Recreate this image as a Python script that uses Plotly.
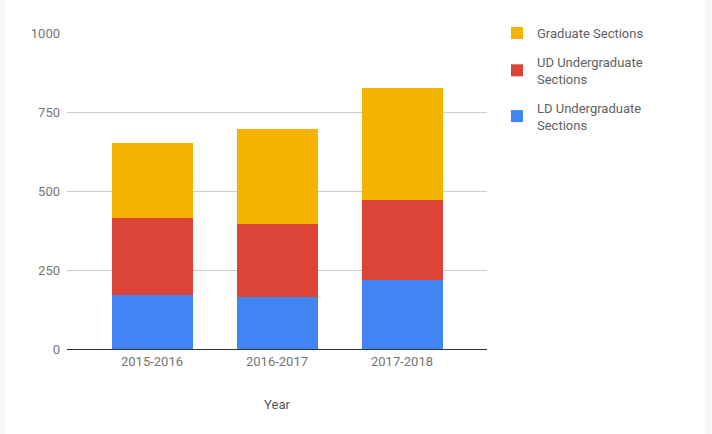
import plotly.graph_objects as go

years = ["2015-2016", "2016-2017", "2017-2018"]
ld_sections = [171, 163, 218]
ud_sections = [243, 232, 255]
grad_sections = [237, 302, 353]

# stacked bottom to top; legendrank lists them top to bottom
series = [
    ("LD Undergraduate<br>Sections", ld_sections, "#4285f4", 3),
    ("UD Undergraduate<br>Sections", ud_sections, "#db4437", 2),
    ("Graduate Sections", grad_sections, "#f4b400", 1),
]

fig = go.Figure()
for name, vals, color, rank in series:
    fig.add_trace(go.Bar(
        x=years, y=vals, name=name, legendgroup=name, legendrank=rank,
        marker=dict(color=color, line=dict(width=0)),
        hoverinfo="x+y+name",
    ))

W, H = 712, 434
ml, mr, mt, mb = 67, 225, 33, 85
pw, ph = W - ml - mr, H - mt - mb

def px_x(p):
    return (p - ml) / pw

def px_y(p):
    return (H - mb - p) / ph

# faint frame strips at the left and right edges
for x0, x1 in [(0, 5), (705, 712)]:
    fig.add_shape(type="rect", xref="paper", yref="paper",
                  x0=px_x(x0), x1=px_x(x1), y0=px_y(H), y1=px_y(0),
                  fillcolor="#f7f7f7", line=dict(width=0), layer="below")

fig.update_layout(
    width=W, height=H,
    margin=dict(l=ml, r=mr, t=mt, b=mb),
    barmode="stack",
    bargap=0.352,
    paper_bgcolor="white",
    plot_bgcolor="white",
    font=dict(family="Roboto, Arial, sans-serif", size=13, color="#757575"),
    showlegend=True,
    legend=dict(
        x=px_x(497), y=px_y(18), xanchor="left", yanchor="top",
        traceorder="grouped",
        font=dict(size=13, color="#616161"),
        itemsizing="constant",
        tracegroupgap=9,
        bgcolor="rgba(0,0,0,0)",
    ),
    xaxis=dict(
        range=[-0.68, 2.68],
        showgrid=False,
        showline=True, linecolor="#333333", linewidth=1,
        ticks="", tickfont=dict(size=13, color="#757575"),
        title=dict(text="Year", font=dict(size=13, color="#555555"), standoff=32),
        fixedrange=True,
    ),
    yaxis=dict(
        range=[0, 1000],
        tickvals=[0, 250, 500, 750, 1000],
        ticktext=["0", "250", "500", "750", "1000"],
        showgrid=True, gridcolor="#cccccc", gridwidth=1,
        zeroline=False,
        showline=False,
        ticks="", ticklabelstandoff=6,
        tickfont=dict(size=13, color="#757575"),
        fixedrange=True,
    ),
)

fig.write_html("out.html")
